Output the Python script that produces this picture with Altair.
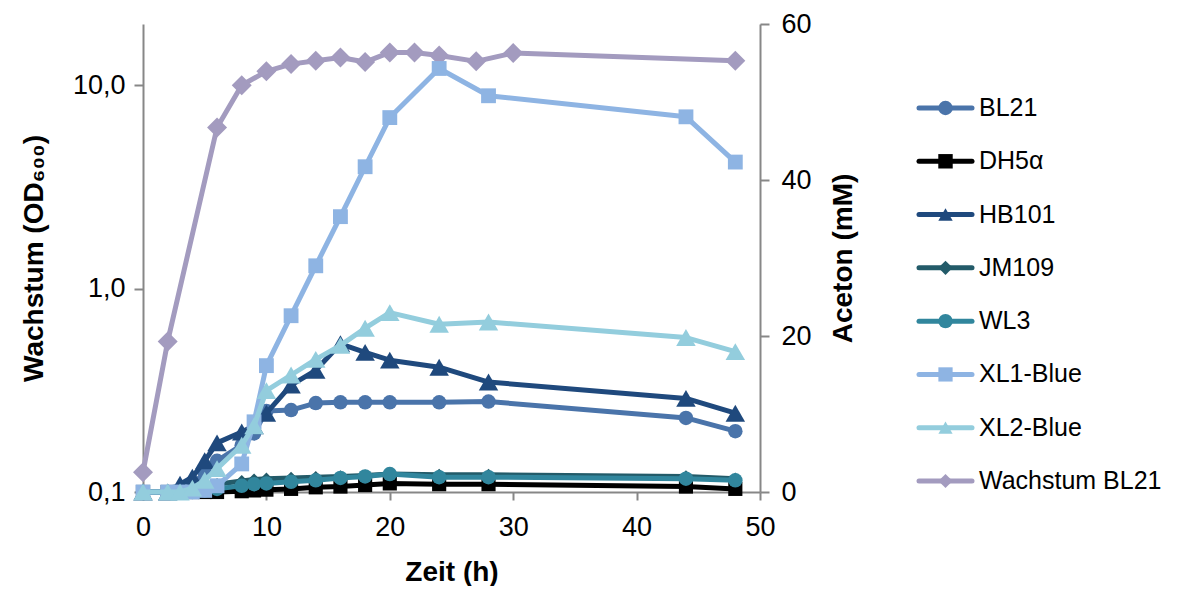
import altair as alt
import pandas as pd

# ---------------- data ----------------
t_acetone = [0, 2, 3, 4, 5, 6, 8, 9, 10, 12, 14, 16, 18, 20, 24, 28, 44, 48]
bl21 = [0, 0, 0.3, 1.0, 2.5, 4.0, 6.0, 7.5, 10.4, 10.5, 11.4, 11.5, 11.5, 11.5, 11.5, 11.6, 9.5, 7.8]
dh5a = [0, 0, 0, 0, 0, 0, 0.1, 0.2, 0.3, 0.4, 0.6, 0.7, 0.9, 1.1, 1.0, 1.0, 0.7, 0.4]
hb101 = [0, 0, 1.0, 1.9, 4.0, 6.3, 7.7, 8.5, 10.1, 13.7, 15.6, 19.0, 17.9, 16.9, 16.0, 14.1, 12.0, 10.1]
jm109 = [0, 0, 0, 0.2, 0.5, 1.0, 1.4, 1.6, 1.7, 1.8, 1.9, 2.0, 2.1, 2.3, 2.2, 2.2, 2.0, 1.7]
wl3 = [0, 0, 0, 0, 0.2, 0.4, 0.8, 1.0, 1.1, 1.3, 1.5, 1.8, 2.0, 2.3, 1.9, 1.9, 1.7, 1.5]
xl1 = [0, 0, 0, 0, 0.2, 0.8, 3.6, 9.0, 16.2, 22.6, 29.0, 35.3, 41.7, 48.0, 54.3, 50.8, 48.1, 42.3]
xl2 = [0, 0, 0, 0.5, 1.5, 3.0, 6.0, 8.5, 13.0, 15.0, 17.0, 18.8, 21.0, 23.0, 21.5, 21.8, 19.8, 18.0]

t_growth = [0, 2, 6, 8, 10, 12, 14, 16, 18, 20, 22, 24, 27, 30, 48]
growth_bl21 = [0.125, 0.55, 6.2, 10.0, 11.7, 12.7, 13.2, 13.7, 13.0, 14.5, 14.5, 14.0, 13.1, 14.4, 13.2]

series_names = ["BL21", "DH5α", "HB101", "JM109", "WL3", "XL1-Blue", "XL2-Blue", "Wachstum BL21"]
series_colors = ["#4A74AA", "#000000", "#1F497D", "#235B69", "#31869D", "#8EB4E3", "#93CDDD", "#A39BBF"]
series_shapes = ["circle", "square", "triangle-up", "diamond", "circle", "square", "triangle-up", "diamond"]
series_sizes = [210, 200, 380, 150, 210, 220, 380, 400]
acetone_values = [bl21, dh5a, hb101, jm109, wl3, xl1, xl2]

x_ticks = [0, 10, 20, 30, 40, 50]
y_left_ticks = [0.1, 1, 10]
y_right_ticks = [0, 20, 40, 60]

FONT = "Liberation Sans"
LABEL_FS = 27
TITLE_FS = 28
LEGEND_FS = 25
AXIS_GRAY = "#878787"
NO_FRAME = alt.ViewBackground(stroke="transparent", strokeWidth=0, strokeOpacity=0)

# ---------------- encodings ----------------
x_enc = alt.X(
    "t:Q",
    scale=alt.Scale(domain=[0, 50], nice=False),
    axis=alt.Axis(
        values=x_ticks, title="Zeit (h)", labelFlush=False, grid=False,
        tickSize=8, labelPadding=14, titlePadding=18,
    ),
)

y_right = alt.Y(
    "v:Q",
    scale=alt.Scale(domain=[0, 60], nice=False),
    axis=alt.Axis(
        orient="right", values=y_right_ticks, title="Aceton (mM)", grid=False,
        tickSize=9, labelPadding=12, titleAngle=270, titleBaseline="top", titlePadding=18,
    ),
)

y_left = alt.Y(
    "v:Q",
    scale=alt.Scale(type="log", domain=[0.1, 20], nice=False),
    axis=alt.Axis(
        orient="left", values=y_left_ticks, title="Wachstum (OD₆₀₀)", grid=False,
        labelExpr="replace(format(datum.value, '.1f'), '.', ',')",
        tickSize=9, labelPadding=9, titlePadding=24,
    ),
)


def series_layer(df, color, shape, size, y_enc):
    base = alt.Chart(df).encode(x=x_enc, y=y_enc)
    line = base.mark_line(color=color, strokeWidth=5, strokeJoin="round", strokeCap="round")
    pts = base.mark_point(filled=True, color=color, shape=shape, size=size, opacity=1)
    return alt.layer(line, pts)


# growth layer (left, log axis)
growth_df = pd.DataFrame({"t": t_growth, "v": growth_bl21})
growth_layer = series_layer(growth_df, series_colors[7], series_shapes[7], series_sizes[7], y_left)

# acetone layers (right axis)
ace_layers = []
for i, vals in enumerate(acetone_values):
    df = pd.DataFrame({"t": t_acetone, "v": vals})
    ace_layers.append(series_layer(df, series_colors[i], series_shapes[i], series_sizes[i], y_right))
acetone_layer = alt.layer(*ace_layers)

main = alt.layer(growth_layer, acetone_layer).resolve_scale(y="independent").properties(
    width=617, height=468, view=NO_FRAME
)

# ---------------- legend ----------------
legend_df = pd.DataFrame({"name": series_names})
leg_base = alt.Chart(legend_df).encode(
    y=alt.Y("name:N", sort=series_names, axis=None,
            scale=alt.Scale(type="point", range=[84, 457], padding=0)),
)
leg_color = alt.Color("name:N", scale=alt.Scale(domain=series_names, range=series_colors), legend=None)
leg_rule = leg_base.mark_rule(strokeWidth=5, strokeCap="round").encode(
    x=alt.value(2), x2=alt.value(55), color=leg_color
)
leg_pts = leg_base.mark_point(filled=True, opacity=1).encode(
    x=alt.value(28.5),
    color=leg_color,
    shape=alt.Shape("name:N", scale=alt.Scale(domain=series_names, range=series_shapes), legend=None),
    size=alt.Size("name:O", scale=alt.Scale(domain=series_names, range=series_sizes), legend=None),
)
leg_txt = leg_base.mark_text(align="left", baseline="middle", fontSize=LEGEND_FS, font=FONT, color="black").encode(
    x=alt.value(62), text="name:N"
)
legend = alt.layer(leg_rule, leg_pts, leg_txt).properties(width=235, height=468, view=NO_FRAME)

chart = (
    alt.hconcat(main, legend, spacing=58)
    .configure_view(stroke="transparent", strokeWidth=0, strokeOpacity=0)
    .configure(padding={"left": 12, "top": 2, "right": 0, "bottom": 0}, background="white")
    .configure_axis(
        labelFont=FONT, labelFontSize=LABEL_FS, labelColor="black",
        titleFont=FONT, titleFontSize=TITLE_FS, titleFontWeight="bold", titleColor="black",
        domainColor=AXIS_GRAY, domainWidth=2, tickColor=AXIS_GRAY, tickWidth=2,
        labelOverlap=False,
    )
)

chart.save("out.html", embed_options={"renderer": "svg", "actions": False})
